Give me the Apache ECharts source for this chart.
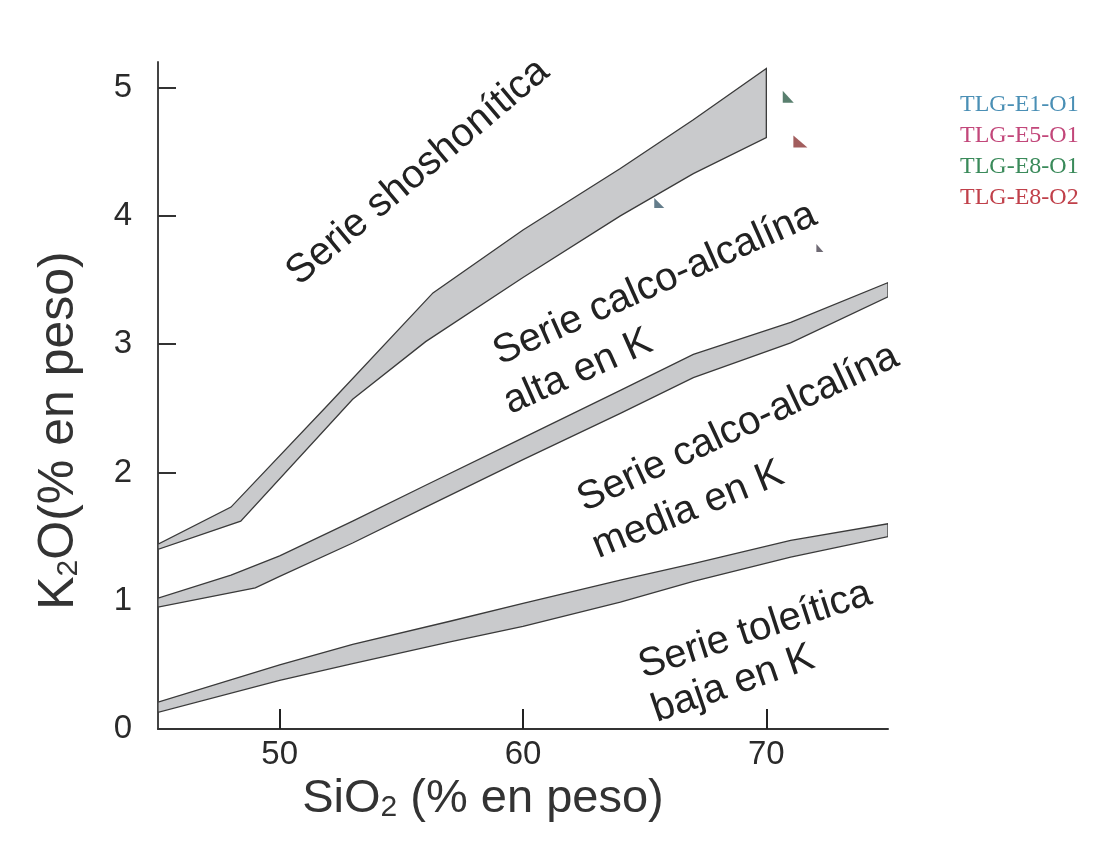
<!DOCTYPE html>
<html>
<head>
<meta charset="utf-8">
<script src="https://cdn.jsdelivr.net/npm/echarts@6/dist/echarts.min.js"></script>
<style>html,body{margin:0;padding:0;background:#fff}#c{width:1095px;height:861px}</style>
</head>
<body>
<div id="c"></div>
<script>
// ---- data ----
const xTicks = [50, 60, 70];
const yTicks = [0, 1, 2, 3, 4, 5];

// boundary bands: upper and lower edges [SiO2, K2O]
const bandLowUpper = [[45,0.21],[50,0.50],[53,0.66],[57,0.84],[60,0.98],[64,1.16],[67,1.29],[71,1.47],[75,1.60]];
const bandLowLower = [[45,0.13],[50,0.38],[53,0.51],[57,0.68],[60,0.80],[64,0.99],[67,1.15],[71,1.34],[75,1.50]];
const bandMidUpper = [[45,1.02],[48,1.20],[50,1.35],[53,1.62],[56,1.90],[60,2.27],[64,2.64],[67,2.92],[71,3.17],[75,3.48]];
const bandMidLower = [[45,0.95],[49,1.10],[50,1.19],[53,1.45],[56,1.73],[60,2.10],[64,2.46],[67,2.74],[71,3.01],[75,3.37]];
const bandHighUpper = [[45,1.44],[48,1.73],[52,2.53],[56.3,3.40],[60,3.89],[64,4.37],[67,4.75],[70,5.15]];
const bandHighLower = [[45,1.40],[48.4,1.62],[53,2.57],[56,3.02],[60,3.52],[64,4.00],[67,4.33],[70,4.61]];

const sampleNames = ['TLG-E1-O1', 'TLG-E5-O1', 'TLG-E8-O1', 'TLG-E8-O2'];
const sampleE1O1 = [[65.6, 4.10]];
const sampleE5O1 = [[72.2, 3.75]];
const sampleE8O1 = [[70.9, 4.93]];
const sampleE8O2 = [[71.4, 4.58]];

const seriesLabels = [
  ['Serie shoshonítica'],
  ['Serie calco-alcalína', 'alta en K'],
  ['Serie calco-alcalína', 'media en K'],
  ['Serie toleítica', 'baja en K']
];

// ---- styles / layout ----
const legendColors = ['#4a8fb5', '#c2477a', '#3a8a5a', '#c0404a'];
const markerColors = ['#3d5c6e', '#4a4450', '#2f5f4a', '#8b3535'];
const markerSizes = [[10,10],[7,8],[11,12],[14,12]];
const FONT = 'Liberation Sans, Arial, sans-serif';

const bands = [
  {upper: bandLowUpper, lower: bandLowLower},
  {upper: bandMidUpper, lower: bandMidLower},
  {upper: bandHighUpper, lower: bandHighLower}
];
const samples = [sampleE1O1, sampleE5O1, sampleE8O1, sampleE8O2];

// label placement (pixels) : [cx, cy, angleDeg]
const labelPlacement = [
  [[418, 172, 40]],
  [[655, 284, 24], [578, 372, 24]],
  [[738, 428, 25], [688, 510, 22]],
  [[755, 630, 18], [733, 684, 19]]
];

const graphics = [];
seriesLabels.forEach((lines, i) => {
  lines.forEach((t, j) => {
    const p = labelPlacement[i][j];
    graphics.push({
      type: 'text', x: p[0], y: p[1], rotation: p[2] * Math.PI / 180,
      style: {text: t, fontSize: 40, fontFamily: FONT, fill: '#222', align: 'center', verticalAlign: 'middle'},
      z: 10
    });
  });
});

const chart = echarts.init(document.getElementById('c'), null, {renderer: 'canvas'});

const series = [{
  type: 'custom',
  name: 'bands',
  coordinateSystem: 'cartesian2d',
  clip: true,
  silent: true,
  data: bands.map((b, i) => [i]),
  renderItem: function (params, api) {
    const b = bands[params.dataIndex];
    const pts = b.upper.concat(b.lower.slice().reverse()).map(p => api.coord(p));
    return {type: 'polygon', shape: {points: pts},
      style: {fill: '#c9cacc', stroke: '#3a3a3a', lineWidth: 1.3, lineJoin: 'miter'}};
  },
  z: 2
}];
sampleNames.forEach((n, i) => {
  series.push({
    type: 'scatter', name: n, data: samples[i],
    symbol: 'path://M0,0 L0,12 L10,12 Z', symbolSize: markerSizes[i],
    itemStyle: {color: markerColors[i]}, z: 5
  });
});

chart.setOption({
  backgroundColor: '#fff',
  animation: false,
  grid: {left: 158, right: 207, top: 62, bottom: 132, containLabel: false},
  legend: {
    orient: 'vertical', left: 950, top: 88, itemWidth: 0, itemHeight: 0, itemGap: 7,
    selectedMode: false,
    textStyle: {fontFamily: 'Liberation Serif, serif', fontSize: 24, lineHeight: 24},
    data: sampleNames.map((n, i) => ({name: n, textStyle: {color: legendColors[i]}}))
  },
  xAxis: {
    type: 'value', min: 45, max: 75,
    axisLine: {show: true, onZero: false, lineStyle: {color: '#333', width: 2}},
    axisTick: {show: true, inside: true, length: 20, customValues: xTicks, lineStyle: {color: '#222', width: 2}},
    axisLabel: {customValues: xTicks, fontSize: 33, color: '#2a2a2a', margin: 9, fontFamily: FONT},
    splitLine: {show: false},
    name: '{n|SiO}{s|2}{n| (% en peso)}',
    nameLocation: 'middle', nameGap: 46,
    nameTextStyle: {
      padding: [0, 80, 0, 0],
      rich: {
        n: {fontSize: 47, fontFamily: FONT, color: '#333'},
        s: {fontSize: 30, fontFamily: FONT, color: '#333', verticalAlign: 'bottom', padding: [14, 0, 0, 0]}
      }
    }
  },
  yAxis: {
    type: 'value', min: 0, max: 5.2,
    axisLine: {show: true, onZero: false, lineStyle: {color: '#444', width: 2}},
    axisTick: {show: true, inside: true, length: 18, customValues: [1, 2, 3, 4, 5], lineStyle: {color: '#333', width: 2}},
    axisLabel: {customValues: yTicks, fontSize: 33, color: '#2a2a2a', margin: 26, fontFamily: FONT},
    splitLine: {show: false},
    name: '{n|K}{s|2}{n|O(% en peso)}',
    nameLocation: 'middle', nameGap: 74,
    nameTextStyle: {
      padding: [0, 70, 0, 0],
      rich: {
        n: {fontSize: 50, fontFamily: FONT, color: '#333'},
        s: {fontSize: 30, fontFamily: FONT, color: '#333', verticalAlign: 'bottom', padding: [14, 0, 0, 0]}
      }
    }
  },
  graphic: graphics,
  series: series
});
</script>
</body>
</html>
